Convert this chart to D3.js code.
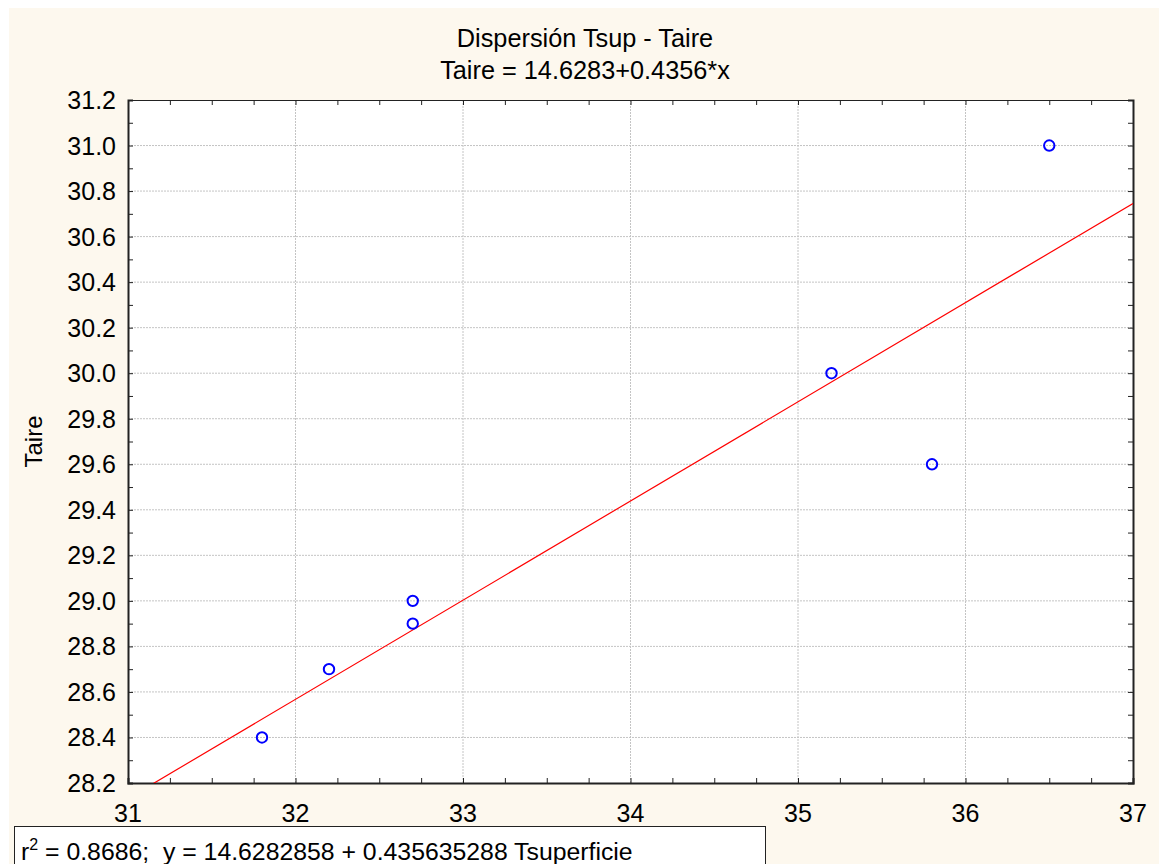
<!DOCTYPE html>
<html>
<head>
<meta charset="utf-8">
<script src="https://cdn.jsdelivr.net/npm/d3@7"></script>
<style>
  body { margin: 0; background: #fff; }
  svg text { font-family: "Liberation Sans", Arial, sans-serif; fill: #000; }
</style>
</head>
<body>
<div id="chart"></div>
<script>
// data
var tsup = [31.8, 32.2, 32.7, 32.7, 35.2, 35.8, 36.5];
var taire = [28.4, 28.7, 29.0, 28.9, 30.0, 29.6, 31.0];
var xTicks = [31, 32, 33, 34, 35, 36, 37];
var yTicks = [28.2, 28.4, 28.6, 28.8, 29.0, 29.2, 29.4, 29.6, 29.8, 30.0, 30.2, 30.4, 30.6, 30.8, 31.0, 31.2];
var intercept = 14.6283, slope = 0.4356;

var width = 1159, height = 864;
var margin = {left: 128, top: 100, right: 1159 - 1133, bottom: 864 - 783};

var svg = d3.select("#chart").append("svg")
    .attr("width", width)
    .attr("height", height);

svg.append("rect")
    .attr("x", 9).attr("y", 8)
    .attr("width", width - 9).attr("height", height - 8)
    .attr("fill", "#fdf8ee");

var xScale = d3.scaleLinear().domain([31, 37]).range([margin.left, width - margin.right]);
var yScale = d3.scaleLinear().domain([28.2, 31.2]).range([height - margin.bottom, margin.top]);

svg.append("rect")
    .attr("x", xScale(31)).attr("y", yScale(31.2))
    .attr("width", xScale(37) - xScale(31))
    .attr("height", yScale(28.2) - yScale(31.2))
    .attr("fill", "#fff");

svg.append("defs").append("clipPath").attr("id", "clip")
    .append("rect")
    .attr("x", xScale(31)).attr("y", yScale(31.2))
    .attr("width", xScale(37) - xScale(31))
    .attr("height", yScale(28.2) - yScale(31.2));

// grid
var grid = svg.append("g").attr("id", "grid");
grid.selectAll(".gx").data(xTicks.slice(1, -1)).enter().append("line")
    .attr("x1", function(d) { return xScale(d); }).attr("x2", function(d) { return xScale(d); })
    .attr("y1", yScale(28.2)).attr("y2", yScale(31.2))
    .attr("stroke", "#c4c4c4").attr("stroke-dasharray", "2,1");
grid.selectAll(".gy").data(yTicks.slice(1, -1)).enter().append("line")
    .attr("y1", function(d) { return yScale(d); }).attr("y2", function(d) { return yScale(d); })
    .attr("x1", xScale(31)).attr("x2", xScale(37))
    .attr("stroke", "#c4c4c4").attr("stroke-dasharray", "2,1");

// axes with inward minor ticks
var xMinor = d3.range(31, 37.001, 0.25);
var yMinor = d3.range(28.2, 31.201, 0.1);

svg.append("g")
    .attr("transform", "translate(0," + yScale(28.2) + ")")
    .call(d3.axisBottom(xScale).tickValues(xMinor).tickSize(-5).tickFormat(""))
    .call(function(g) { g.select(".domain").attr("stroke-width", 2); });
svg.append("g")
    .attr("transform", "translate(0," + yScale(31.2) + ")")
    .call(d3.axisTop(xScale).tickValues(xMinor).tickSize(-5).tickFormat(""))
    .call(function(g) { g.select(".domain").attr("stroke-width", 1); });
svg.append("g")
    .attr("transform", "translate(" + xScale(31) + ",0)")
    .call(d3.axisLeft(yScale).tickValues(yMinor).tickSize(-5).tickFormat(""))
    .call(function(g) { g.select(".domain").attr("stroke-width", 2); });
svg.append("g")
    .attr("transform", "translate(" + xScale(37) + ",0)")
    .call(d3.axisRight(yScale).tickValues(yMinor).tickSize(-5).tickFormat(""))
    .call(function(g) { g.select(".domain").attr("stroke-width", 2); });
svg.selectAll(".domain").attr("stroke", "#222");
svg.selectAll(".tick line").attr("stroke", "#222");

// tick labels
svg.append("g").selectAll("text").data(xTicks).enter().append("text")
    .attr("x", function(d) { return xScale(d); })
    .attr("y", yScale(28.2) + 39)
    .attr("text-anchor", "middle")
    .style("font-size", "25px")
    .text(function(d) { return d; });
svg.append("g").selectAll("text").data(yTicks).enter().append("text")
    .attr("x", xScale(31) - 12)
    .attr("y", function(d) { return yScale(d) + 9; })
    .attr("text-anchor", "end")
    .style("font-size", "25px")
    .text(function(d) { return d.toFixed(1); });

// regression line
var lineX = [31, 37];
svg.append("g").attr("clip-path", "url(#clip)")
    .append("line")
    .attr("x1", xScale(lineX[0])).attr("y1", yScale(intercept + slope * lineX[0]))
    .attr("x2", xScale(lineX[1])).attr("y2", yScale(intercept + slope * lineX[1]))
    .attr("stroke", "#ff0000").attr("stroke-width", 1.2);

// points
svg.append("g").selectAll("circle").data(tsup).enter().append("circle")
    .attr("cx", function(d) { return xScale(d); })
    .attr("cy", function(d, i) { return yScale(taire[i]); })
    .attr("r", 5.2)
    .attr("fill", "none")
    .attr("stroke", "#0000ff")
    .attr("stroke-width", 2);

// titles
svg.append("text").attr("x", 585).attr("y", 47).attr("text-anchor", "middle")
    .style("font-size", "25.3px").text("Dispersión Tsup - Taire");
svg.append("text").attr("x", 585).attr("y", 79).attr("text-anchor", "middle")
    .style("font-size", "25.3px").text("Taire = 14.6283+0.4356*x");
svg.append("text")
    .attr("transform", "translate(42," + ((yScale(28.2) + yScale(31.2)) / 2) + ") rotate(-90)")
    .attr("text-anchor", "middle")
    .style("font-size", "24px").text("Taire");

// legend box
svg.append("rect").attr("x", 14.5).attr("y", 826.5).attr("width", 751).attr("height", 45)
    .attr("fill", "#fff").attr("stroke", "#222");
var leg = svg.append("text").attr("x", 21).attr("y", 860).style("font-size", "24.8px");
leg.append("tspan").text("r");
leg.append("tspan").attr("dy", -10).style("font-size", "16px").text("2");
leg.append("tspan").attr("dy", 10).attr("xml:space", "preserve")
    .text(" = 0.8686;\u00a0 y = 14.6282858 + 0.435635288 Tsuperficie");
</script>
</body>
</html>
